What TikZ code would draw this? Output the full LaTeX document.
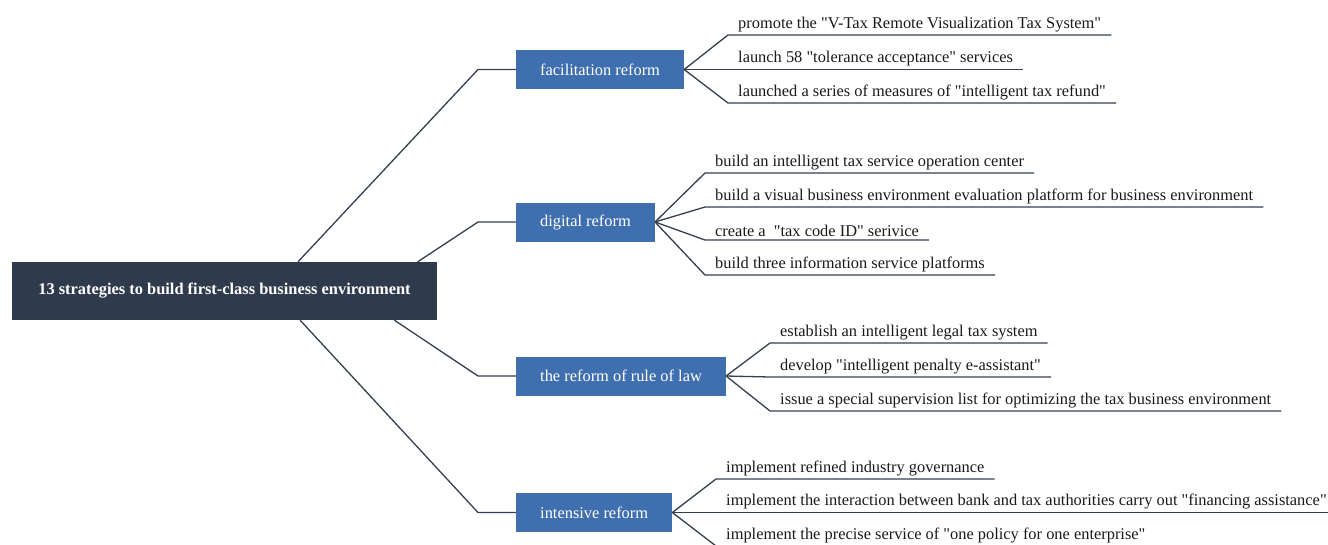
\documentclass[tikz,border=0pt]{standalone}
\usepackage{fontspec}
\setmainfont{Liberation Serif}
\usetikzlibrary{calc}
\newcommand\dq{\textquotedbl}
\tikzset{
  rootbox/.style={fill=rootfill,text=white,font=\fontsize{16.4}{19}\selectfont\bfseries,
    inner xsep=26pt,minimum height=58pt},
  branchbox/.style={fill=branchfill,text=white,font=\fontsize{16.4}{19}\selectfont,
    anchor=west,inner xsep=24pt,minimum height=39pt},
  leaf/.style={anchor=south west,text=leaftext,font=\fontsize{16.4}{19}\selectfont,
    inner xsep=10pt,inner ysep=3pt},
  link/.style={draw=linecol,line width=1.3pt,line join=round},
}
\begin{document}
\begin{tikzpicture}[x=1pt,y=-1pt]
  \definecolor{rootfill}{HTML}{2F3B4C}
  \definecolor{branchfill}{HTML}{3F6FAE}
  \definecolor{linecol}{HTML}{353F4E}
  \definecolor{leaftext}{HTML}{1A1A1A}
  \useasboundingbox (0,0) rectangle (1328,544);
  % root and branches
  \node [rootbox] (root) at (224.5,291) {13 strategies to build first-class business environment};
  \node [branchbox] (fac) at (516,69.5) {facilitation reform};
  \node [branchbox] (dig) at (516,222) {digital reform};
  \node [branchbox] (law) at (516,376) {the reform of rule of law};
  \node [branchbox] (int) at (516,512.5) {intensive reform};
  \draw [link] ($(root.north west)!0.673!(root.north east)$) -- ([xshift=-38pt]fac.west) -- (fac.west);
  \draw [link] ($(root.north west)!0.955!(root.north east)$) -- ([xshift=-38pt]dig.west) -- (dig.west);
  \draw [link] ($(root.south west)!0.9!(root.south east)$) -- ([xshift=-38pt]law.west) -- (law.west);
  \draw [link] ($(root.south west)!0.678!(root.south east)$) -- ([xshift=-38pt]int.west) -- (int.west);
  % facilitation reform
  \node [leaf] (fac1) at (728,35) {promote the \dq V-Tax Remote Visualization Tax System\dq};
  \node [leaf] (fac2) at (728,69.5) {launch 58 \dq tolerance acceptance\dq\ services};
  \node [leaf] (fac3) at (728,103) {launched a series of measures of \dq intelligent tax refund\dq};
  \draw [link] (fac.east) -- (fac1.south west) -- (fac1.south east);
  \draw [link] (fac.east) -- (fac2.south west) -- (fac2.south east);
  \draw [link] (fac.east) -- (fac3.south west) -- (fac3.south east);
  % digital reform
  \node [leaf] (dig1) at (705,173) {build an intelligent tax service operation center};
  \node [leaf] (dig2) at (705,207) {build a visual business environment evaluation platform for business environment};
  \node [leaf] (dig3) at (705,240) {create a~ \dq tax code ID\dq\ serivice};
  \node [leaf] (dig4) at (705,275) {build three information service platforms};
  \draw [link] (dig.east) -- (dig1.south west) -- (dig1.south east);
  \draw [link] (dig.east) -- (dig2.south west) -- (dig2.south east);
  \draw [link] (dig.east) -- (dig3.south west) -- (dig3.south east);
  \draw [link] (dig.east) -- (dig4.south west) -- (dig4.south east);
  % rule of law
  \node [leaf] (law1) at (770,343) {establish an intelligent legal tax system};
  \node [leaf] (law2) at (770,377) {develop \dq intelligent penalty e-assistant\dq};
  \node [leaf] (law3) at (770,411) {issue a special supervision list for optimizing the tax business environment};
  \draw [link] (law.east) -- (law1.south west) -- (law1.south east);
  \draw [link] (law.east) -- (law2.south west) -- (law2.south east);
  \draw [link] (law.east) -- (law3.south west) -- (law3.south east);
  % intensive reform
  \node [leaf] (int1) at (716,479) {implement refined industry governance};
  \node [leaf] (int2) at (716,512.5) {implement the interaction between bank and tax authorities carry out \dq financing assistance\dq};
  \node [leaf] (int3) at (716,546) {implement the precise service of \dq one policy for one enterprise\dq};
  \draw [link] (int.east) -- (int1.south west) -- (int1.south east);
  \draw [link] (int.east) -- (int2.south west) -- (int2.south east);
  \draw [link] (int.east) -- (int3.south west) -- (int3.south east);
\end{tikzpicture}
\end{document}
